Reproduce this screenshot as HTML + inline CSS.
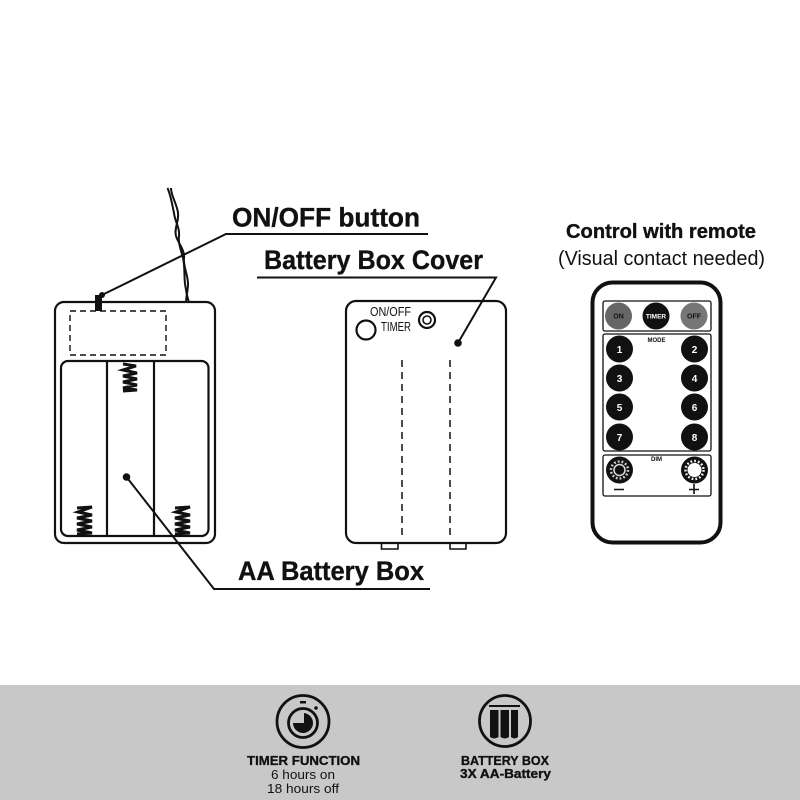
<!DOCTYPE html>
<html><head><meta charset="utf-8"><style>
html,body{margin:0;padding:0;background:#fff}
svg{display:block}
text{font-family:"Liberation Sans",sans-serif;fill:#111}
.h{font-weight:bold;stroke:#111;stroke-width:.35px}
.w{font-weight:bold;fill:#fff}
.m{font-weight:bold}
</style></head><body>
<svg width="800" height="800" viewBox="0 0 800 800" xmlns="http://www.w3.org/2000/svg">
<rect width="800" height="800" fill="#fff"/>
<rect x="0" y="685" width="800" height="115" fill="#c8c8c8"/>

<!-- wires -->
<g fill="none" stroke="#111" stroke-width="2">
<path d="M167.500 188 C171 196 172 204 174 213 C175 222 180 228 179 236 C178 243 181 250 183 258 C185 266 184 275 185 284 C186 291 187 296 189 303"/>
<path d="M171 188 C171 196 177 204 178 213 C179 222 174 228 176 236 C178 243 185 250 184 258 C183 266 188 275 188 284 C188 291 186 296 186 303"/>
</g>

<!-- left box -->
<rect x="55" y="302" width="160" height="241" rx="9" fill="#fff" stroke="#111" stroke-width="2.200"/>
<rect x="61" y="361" width="147.500" height="175" rx="7" fill="none" stroke="#111" stroke-width="2.200"/>
<line x1="107" y1="361" x2="107" y2="536" stroke="#111" stroke-width="2.200"/>
<line x1="154" y1="361" x2="154" y2="536" stroke="#111" stroke-width="2.200"/>
<rect x="70" y="311" width="96" height="44" fill="none" stroke="#111" stroke-width="1.400" stroke-dasharray="6 4"/>
<rect x="95" y="295" width="7" height="16" fill="#111"/>
<!-- springs -->
<g fill="none" stroke="#111" stroke-width="3">
<path d="M123 364 L136 366 L123 370 L137 373 L123 376 L137 379 L123 382 L137 385 L123 388 L137 390 L123 391"/>
<path d="M77 508 L92 507 L78 512 L92 515 L77 518 L92 521 L77 524 L92 527 L77 530 L92 533 L77 534"/>
<path d="M175 508 L190 507 L176 512 L190 515 L175 518 L190 521 L175 524 L190 527 L175 530 L190 533 L175 534"/>
</g>

<!-- leaders -->
<g fill="none" stroke="#111" stroke-width="2">
<polyline points="102,295 226,234 428,234"/>
<polyline points="126.500,477 214,589 430,589"/>
<polyline points="458,343 496,277.500 257,277.500"/>
</g>
<circle cx="102" cy="295" r="3" fill="#111"/>
<circle cx="126.500" cy="477" r="3.800" fill="#111"/>
<circle cx="458" cy="343" r="3.800" fill="#111"/>

<!-- cover -->
<path d="M381.500 543 V549 H398 V543 M450 543 V549 H466 V543" fill="#fff" stroke="#111" stroke-width="1.600"/>
<rect x="346" y="301" width="160" height="242" rx="10" fill="none" stroke="#111" stroke-width="2.200"/>
<line x1="402" y1="360" x2="402" y2="537" stroke="#111" stroke-width="1.500" stroke-dasharray="7 5"/>
<line x1="450" y1="360" x2="450" y2="537" stroke="#111" stroke-width="1.500" stroke-dasharray="7 5"/>
<circle cx="366" cy="330" r="9.500" fill="none" stroke="#111" stroke-width="2.200"/>
<circle cx="427" cy="320" r="8" fill="none" stroke="#111" stroke-width="2.200"/>
<circle cx="427" cy="320" r="4" fill="none" stroke="#111" stroke-width="1.600"/>
<text x="370" y="316" font-size="12.500" textLength="41" lengthAdjust="spacingAndGlyphs">ON/OFF</text>
<text x="381" y="331" font-size="12.500" textLength="30" lengthAdjust="spacingAndGlyphs">TIMER</text>

<!-- labels -->
<text class="h" x="232" y="226.500" font-size="27" textLength="188" lengthAdjust="spacingAndGlyphs">ON/OFF button</text>
<text class="h" x="264" y="269" font-size="27" textLength="219" lengthAdjust="spacingAndGlyphs">Battery Box Cover</text>
<text class="h" x="238" y="580" font-size="27" textLength="186" lengthAdjust="spacingAndGlyphs">AA Battery Box</text>
<text class="h" x="566" y="238" font-size="20" textLength="190" lengthAdjust="spacingAndGlyphs">Control with remote</text>
<text x="558" y="265" font-size="20" textLength="207" lengthAdjust="spacingAndGlyphs">(Visual contact needed)</text>

<!-- remote -->
<rect x="592.500" y="282.500" width="128" height="260" rx="20" fill="none" stroke="#111" stroke-width="4"/>
<rect x="603" y="301" width="108" height="30" rx="2" fill="none" stroke="#111" stroke-width="1.300"/>
<rect x="603" y="334" width="108" height="117" rx="2" fill="none" stroke="#111" stroke-width="1.300"/>
<rect x="603" y="455" width="108" height="41" rx="2" fill="none" stroke="#111" stroke-width="1.300"/>
<circle cx="618.500" cy="316" r="13.500" fill="#666"/>
<circle cx="656" cy="316" r="13.500" fill="#111"/>
<circle cx="694" cy="316" r="13.500" fill="#777"/>
<text class="m" x="618.500" y="318.500" font-size="7" text-anchor="middle">ON</text>
<text class="w" x="656" y="318.500" font-size="6.500" text-anchor="middle">TIMER</text>
<text class="m" x="694" y="318.500" font-size="7" text-anchor="middle">OFF</text>
<text class="m" x="656.500" y="342" font-size="6" text-anchor="middle">MODE</text>
<text class="m" x="656.500" y="461" font-size="6" text-anchor="middle">DIM</text>
<g fill="#111">
<circle cx="619.500" cy="349" r="13.500"/><circle cx="694.500" cy="349" r="13.500"/>
<circle cx="619.500" cy="378" r="13.500"/><circle cx="694.500" cy="378" r="13.500"/>
<circle cx="619.500" cy="407" r="13.500"/><circle cx="694.500" cy="407" r="13.500"/>
<circle cx="619.500" cy="437" r="13.500"/><circle cx="694.500" cy="437" r="13.500"/>
<circle cx="619.500" cy="470" r="13.500"/><circle cx="694.500" cy="470" r="13.500"/>
</g>
<g font-size="10" text-anchor="middle">
<text class="w" x="619.500" y="353">1</text><text class="w" x="694.500" y="353">2</text>
<text class="w" x="619.500" y="382">3</text><text class="w" x="694.500" y="382">4</text>
<text class="w" x="619.500" y="411">5</text><text class="w" x="694.500" y="411">6</text>
<text class="w" x="619.500" y="441">7</text><text class="w" x="694.500" y="441">8</text>
</g>
<circle cx="619.500" cy="470" r="5.500" fill="none" stroke="#ddd" stroke-width="1.500"/>
<circle cx="619.500" cy="470" r="8.500" fill="none" stroke="#ccc" stroke-width="2.500" stroke-dasharray="1.800 2"/>
<circle cx="694.500" cy="470" r="7" fill="#fff"/>
<circle cx="694.500" cy="470" r="9" fill="none" stroke="#eee" stroke-width="2.500" stroke-dasharray="1.800 2"/>
<path d="M614 489.500 H624 M689 489.500 H699 M694 484 V494" stroke="#111" stroke-width="1.600" fill="none"/>

<!-- timer icon -->
<circle cx="303" cy="721.500" r="26" fill="none" stroke="#111" stroke-width="2.800"/>
<circle cx="303" cy="723" r="14.500" fill="none" stroke="#111" stroke-width="2.800"/>
<path d="M304 713 A10 10 0 1 1 293 723 H304 Z" fill="#111"/>
<rect x="300" y="701" width="6" height="2.500" fill="#111"/>
<circle cx="316" cy="708" r="1.800" fill="#111"/>

<!-- battery icon -->
<circle cx="505" cy="721" r="25.500" fill="none" stroke="#111" stroke-width="2.800"/>
<rect x="489" y="705" width="31" height="2" fill="#111"/>
<path d="M490 710 H498.500 V737 Q494 740 490 737 Z M500.500 710 H509 V737 Q505 740 500.500 737 Z M511 710 H518 V737 Q514.500 740 511 737 Z" fill="#111"/>

<!-- footer text -->
<text class="h" x="247" y="765" font-size="13" textLength="113" lengthAdjust="spacingAndGlyphs">TIMER FUNCTION</text>
<text x="271" y="779" font-size="13" textLength="64" lengthAdjust="spacingAndGlyphs">6 hours on</text>
<text x="267" y="793" font-size="13" textLength="72" lengthAdjust="spacingAndGlyphs">18 hours off</text>
<text class="h" x="461" y="765" font-size="13" textLength="88" lengthAdjust="spacingAndGlyphs">BATTERY BOX</text>
<text class="h" x="460" y="778" font-size="13" textLength="91" lengthAdjust="spacingAndGlyphs">3X AA-Battery</text>
</svg>
</body></html>
